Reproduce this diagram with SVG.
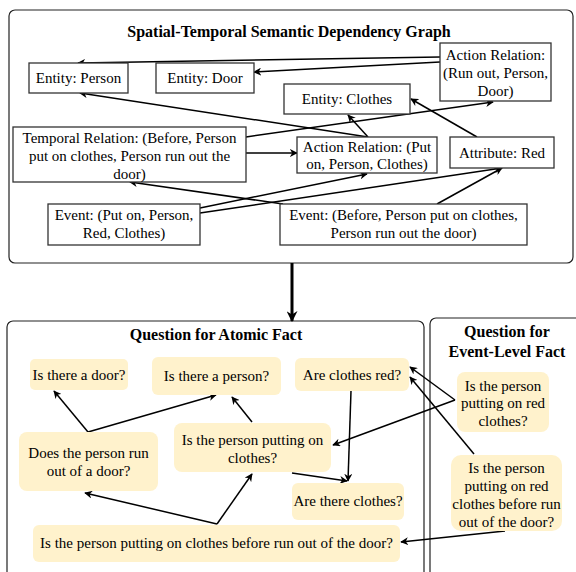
<svg xmlns="http://www.w3.org/2000/svg" width="576" height="572" viewBox="0 0 576 572">
<style>
text{font-family:"Liberation Serif","Times New Roman",serif;font-size:15px;fill:#000;text-anchor:middle}
.t{font-weight:bold;font-size:16px}
.panel{fill:#fff;stroke:#222;stroke-width:1.2}
.box{fill:#fff;stroke:#333;stroke-width:1.3}
.q{fill:#fff2cc;stroke:none}
.e{fill:none;stroke:#000;stroke-width:1.5;marker-end:url(#ah)}
</style>
<defs>
<marker id="ah" viewBox="0 0 10 10" refX="9" refY="5" markerWidth="8" markerHeight="8" orient="auto" markerUnits="userSpaceOnUse">
<path d="M0,0 L10,5 L0,10 L3,5 z" fill="#000"/>
</marker>
<marker id="ahb" viewBox="0 0 10 10" refX="9" refY="5" markerWidth="11" markerHeight="11" orient="auto" markerUnits="userSpaceOnUse">
<path d="M0,0 L10,5 L0,10 L3,5 z" fill="#000"/>
</marker>
</defs>
<g id="panels">
<rect class="panel" x="9" y="10" width="564" height="253" rx="6"/>
<text class="t" x="289" y="37">Spatial-Temporal Semantic Dependency Graph</text>
<rect class="panel" x="7" y="321" width="417" height="270" rx="6"/>
<text class="t" x="216" y="340">Question for Atomic Fact</text>
<rect class="panel" x="430" y="318" width="160" height="270" rx="6"/>
<text class="t" x="507" y="337">Question for</text>
<text class="t" x="507" y="357">Event-Level Fact</text>
</g>
<g id="connectors">
<path class="e" d="M440,57 L78,63"/>
<path class="e" d="M440,62 L254,72"/>
<path class="e" d="M368,137 L80,93"/>
<path class="e" d="M368,137 L348,115"/>
<path class="e" d="M246,137 L493,102"/>
<path class="e" d="M477,137 L411,99"/>
<path class="e" d="M246,153 L297,153"/>
<path class="e" d="M283,204 L130,182"/>
<path class="e" d="M200,208 L367,174"/>
<path class="e" d="M200,213 L502,168"/>
<path class="e" d="M437,204 L502,168"/>
<path fill="none" stroke="#000" stroke-width="3" marker-end="url(#ahb)" d="M292,263 L292,321"/>
<path class="e" d="M88,432 L54,391"/>
<path class="e" d="M88,432 L216,395"/>
<path class="e" d="M252,422 L232,397"/>
<path class="e" d="M455,400 L410,367"/>
<path class="e" d="M455,400 L333,445"/>
<path class="e" d="M351,391 L348,481"/>
<path class="e" d="M292,473 L347,481"/>
<path class="e" d="M217,524 L252,474"/>
<path class="e" d="M217,524 L85,493"/>
<path class="e" d="M474,454 L410,377"/>
<path class="e" d="M505,531 L401,542"/>
</g>
<g id="n-person"><rect class="box" x="29" y="63" width="99" height="30"/><text x="78.5" y="83">Entity: Person</text></g>
<g id="n-door"><rect class="box" x="156" y="63" width="98" height="30"/><text x="205" y="83">Entity: Door</text></g>
<g id="n-runout"><rect class="box" x="440" y="43" width="111" height="58"/><text x="495.5" y="60">Action Relation:</text><text x="495.5" y="78">(Run out, Person,</text><text x="495.5" y="96">Door)</text></g>
<g id="n-clothes"><rect class="box" x="284" y="84" width="126" height="30"/><text x="347" y="104">Entity: Clothes</text></g>
<g id="n-temporal"><rect class="box" x="13" y="127" width="233" height="55"/><text x="129.5" y="143">Temporal Relation: (Before, Person</text><text x="129.5" y="161">put on clothes, Person run out the</text><text x="129.5" y="179">door)</text></g>
<g id="n-puton"><rect class="box" x="297" y="137" width="140" height="36"/><text x="367" y="152">Action Relation: (Put</text><text x="367" y="169">on, Person, Clothes)</text></g>
<g id="n-red"><rect class="box" x="450" y="137" width="104" height="31"/><text x="502" y="158">Attribute: Red</text></g>
<g id="n-event1"><rect class="box" x="48" y="204" width="152" height="41"/><text x="124" y="220">Event: (Put on, Person,</text><text x="124" y="238">Red, Clothes)</text></g>
<g id="n-event2"><rect class="box" x="280" y="204" width="247" height="41"/><text x="403.5" y="220">Event: (Before, Person put on clothes,</text><text x="403.5" y="238">Person run out the door)</text></g>
<g id="q-door"><rect class="q" x="30" y="359" width="98" height="31" rx="5"/><text x="79" y="380">Is there a door?</text></g>
<g id="q-person"><rect class="q" x="152" y="357" width="129" height="38" rx="6"/><text x="216.5" y="381">Is there a person?</text></g>
<g id="q-red"><rect class="q" x="295" y="358" width="114" height="33" rx="6"/><text x="352" y="380">Are clothes red?</text></g>
<g id="q-runout"><rect class="q" x="19" y="432" width="139" height="59" rx="8"/><text x="88.5" y="458">Does the person run</text><text x="88.5" y="476">out of a door?</text></g>
<g id="q-puton"><rect class="q" x="174" y="423" width="157" height="49" rx="8"/><text x="252.5" y="445">Is the person putting on</text><text x="252.5" y="463">clothes?</text></g>
<g id="q-clothes"><rect class="q" x="292" y="483" width="112" height="37" rx="6"/><text x="348" y="506">Are there clothes?</text></g>
<g id="q-before"><rect class="q" x="33" y="525" width="367" height="37" rx="6"/><text x="216.5" y="548">Is the person putting on clothes before run out of the door?</text></g>
<g id="q-ev1"><rect class="q" x="457" y="372" width="92" height="60" rx="8"/><text x="503" y="391">Is the person</text><text x="503" y="408">putting on red</text><text x="503" y="426">clothes?</text></g>
<g id="q-ev2"><rect class="q" x="451" y="455" width="111" height="76" rx="10"/><text x="506.5" y="473">Is the person</text><text x="506.5" y="491">putting on red</text><text x="506.5" y="509">clothes before run</text><text x="506.5" y="527">out of the door?</text></g>
</svg>
